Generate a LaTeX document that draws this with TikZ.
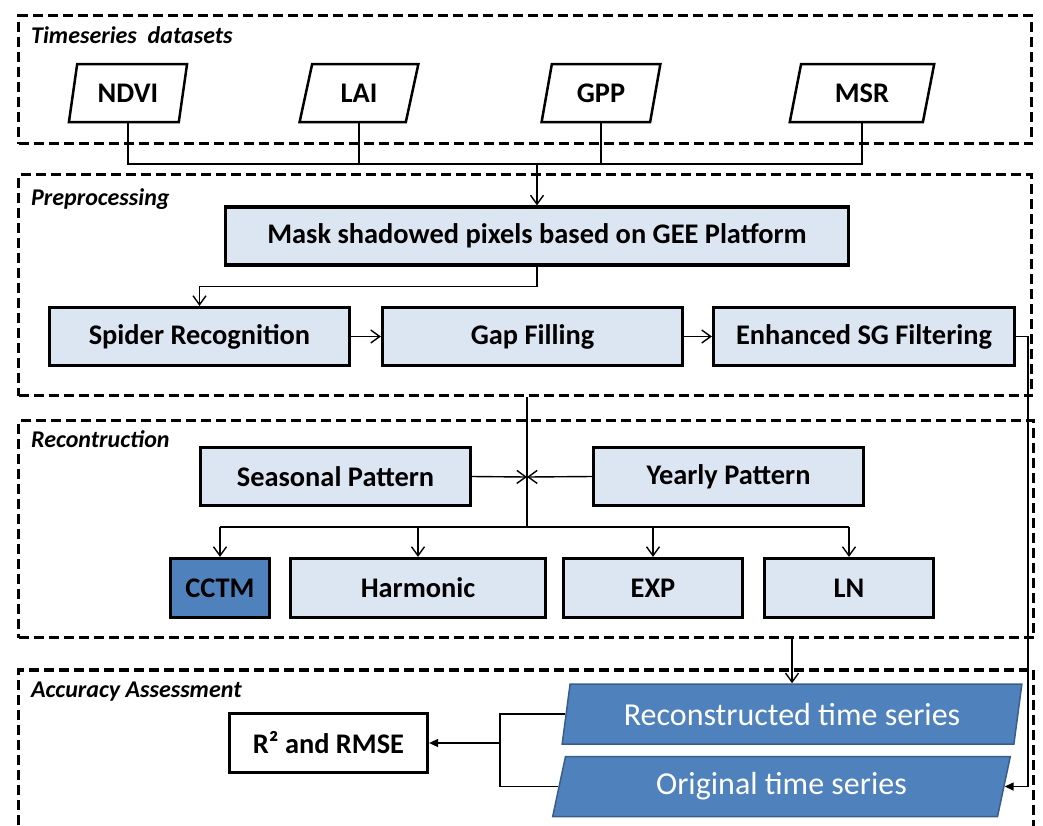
\documentclass[tikz,border=0pt]{standalone}
\usepackage{fontspec}
\setmainfont{Carlito}
\usetikzlibrary{shapes.geometric,arrows.meta}
\definecolor{boxfill}{HTML}{DCE6F2}
\definecolor{accent}{HTML}{4F81BD}
\definecolor{accentdark}{HTML}{385D8A}
\begin{document}
\begin{tikzpicture}[x=1pt,y=-1pt,
  grp/.style={draw, line width=3.2pt, dash pattern=on 10pt off 5pt, inner sep=0pt},
  grplabel/.style={anchor=base west, inner sep=0pt, font=\bfseries\itshape\fontsize{24}{27}\selectfont},
  proc/.style={draw, line width=3.2pt, fill=boxfill, inner sep=0pt, minimum height=58pt,
    font=\bfseries\fontsize{28.4}{32}\selectfont},
  data/.style={trapezium, trapezium left angle=75, trapezium right angle=105,
    trapezium stretches=true, draw, line width=2.5pt, fill=white, inner sep=0pt,
    minimum height=58pt, font=\bfseries\fontsize{28.4}{32}\selectfont},
  series/.style={trapezium, trapezium left angle=75, trapezium right angle=105,
    trapezium stretches=true, draw=accentdark, line width=1.5pt, fill=accent, inner sep=0pt,
    minimum height=60pt, text=white, font=\fontsize{32}{36}\selectfont},
  conn/.style={line width=1.4pt},
  arr/.style={conn, -{Straight Barb[length=9pt,width=13pt]}},
  farr/.style={conn, -{Triangle[length=9pt,width=8pt]}}
]
\path[use as bounding box] (0,0) rectangle (1043,825);
\clip (0,0) rectangle (1043,825);

% stage frames
\node[grp, minimum width=1013pt, minimum height=128pt] (grpTS)  at (525,79.5) {};
\node[grp, minimum width=1013pt, minimum height=221pt] (grpPre) at (525,285) {};
\node[grp, minimum width=1015pt, minimum height=217pt] (grpRec) at (526,529) {};
\node[grp, minimum width=1015pt, minimum height=180pt] (grpAcc) at (526,760) {};

\node[grplabel] (lblTS)  at (31,43)  {Timeseries\ \ datasets};
\node[grplabel] (lblPre) at (31,205) {Preprocessing};
\node[grplabel] (lblRec) at (31,447) {Recontruction};
\node[grplabel] (lblAcc) at (31,697) {Accuracy Assessment};

% input datasets
\node[data, minimum width=119pt] (ndvi) at (128,93) {NDVI};
\node[data, minimum width=119pt] (lai)  at (359,93) {LAI};
\node[data, minimum width=119pt] (gpp)  at (601,93) {GPP};
\node[data, minimum width=145pt] (msr)  at (862,93) {MSR};

% preprocessing
\node[proc, minimum width=623pt] (mask)   at (537,236)   {Mask shadowed pixels based on GEE Platform};
\node[proc, minimum width=300pt] (spider) at (199.5,336.5) {Spider Recognition};
\node[proc, minimum width=300pt] (gap)    at (532.5,336.5) {Gap Filling};
\node[proc, minimum width=301pt] (esg)    at (864,336.5)   {Enhanced SG Filtering};

% reconstruction
\node[proc, minimum width=270pt] (seasonal) at (335.5,476.5) {Seasonal Pattern};
\node[proc, minimum width=270pt] (yearly)   at (728.5,476.5) {Yearly Pattern};
\node[proc, minimum width=99pt, minimum height=59pt, fill=accent] (cctm) at (220,588) {CCTM};
\node[proc, minimum width=255pt, minimum height=59pt] (harmonic) at (418,588) {Harmonic};
\node[proc, minimum width=179pt, minimum height=59pt] (exp) at (653,588) {EXP};
\node[proc, minimum width=169pt, minimum height=59pt] (ln)  at (849,588) {LN};

% accuracy assessment
\node[series, minimum width=460pt] (rts) at (792,714)   {Reconstructed time series};
\node[series, minimum width=459pt] (ots) at (781.5,786.5) {Original time series};
\node[proc, fill=white, minimum width=198pt, minimum height=59pt] (r2) at (328.5,743) {R² and RMSE};

% junction points
\coordinate (jIn)  at (537,164);
\coordinate (jMix) at (527,477);
\coordinate (jDist) at (527,527);
\coordinate (jAcc) at (500,743);

% datasets into masking
\draw[conn] (ndvi.south) -- (ndvi.south |- jIn) -- (msr.south |- jIn) -- (msr.south);
\draw[conn] (lai.south) -- (lai.south |- jIn);
\draw[conn] (gpp.south) -- (gpp.south |- jIn);
\draw[arr] (jIn) -- (mask.north);

% preprocessing chain
\draw[arr] (mask.south) -- ++(0,20) -| (spider.north);
\draw[arr] (spider.east) -- (gap.west);
\draw[arr] (gap.east) -- (esg.west);

% patterns merged and sent to the models
\draw[conn] (grpPre.south -| jMix) -- (jDist);
\draw[arr] (seasonal.east) -- (jMix);
\draw[arr] (yearly.west) -- (jMix);
\draw[conn] (cctm.north |- jDist) -- (ln.north |- jDist);
\draw[arr] (cctm.north |- jDist) -- (cctm.north);
\draw[arr] (harmonic.north |- jDist) -- (harmonic.north);
\draw[arr] (exp.north |- jDist) -- (exp.north);
\draw[arr] (ln.north |- jDist) -- (ln.north);

% outputs and evaluation
\draw[arr] (grpRec.south -| rts.north) -- (rts.north);
\draw[farr] (esg.east) -- ++(12,0) |- (ots.right side);
\draw[conn] (rts.left side) -- (rts.left side -| jAcc) -- (ots.left side -| jAcc) -- (ots.left side);
\draw[farr] (jAcc) -- (r2.east);
\end{tikzpicture}
\end{document}
